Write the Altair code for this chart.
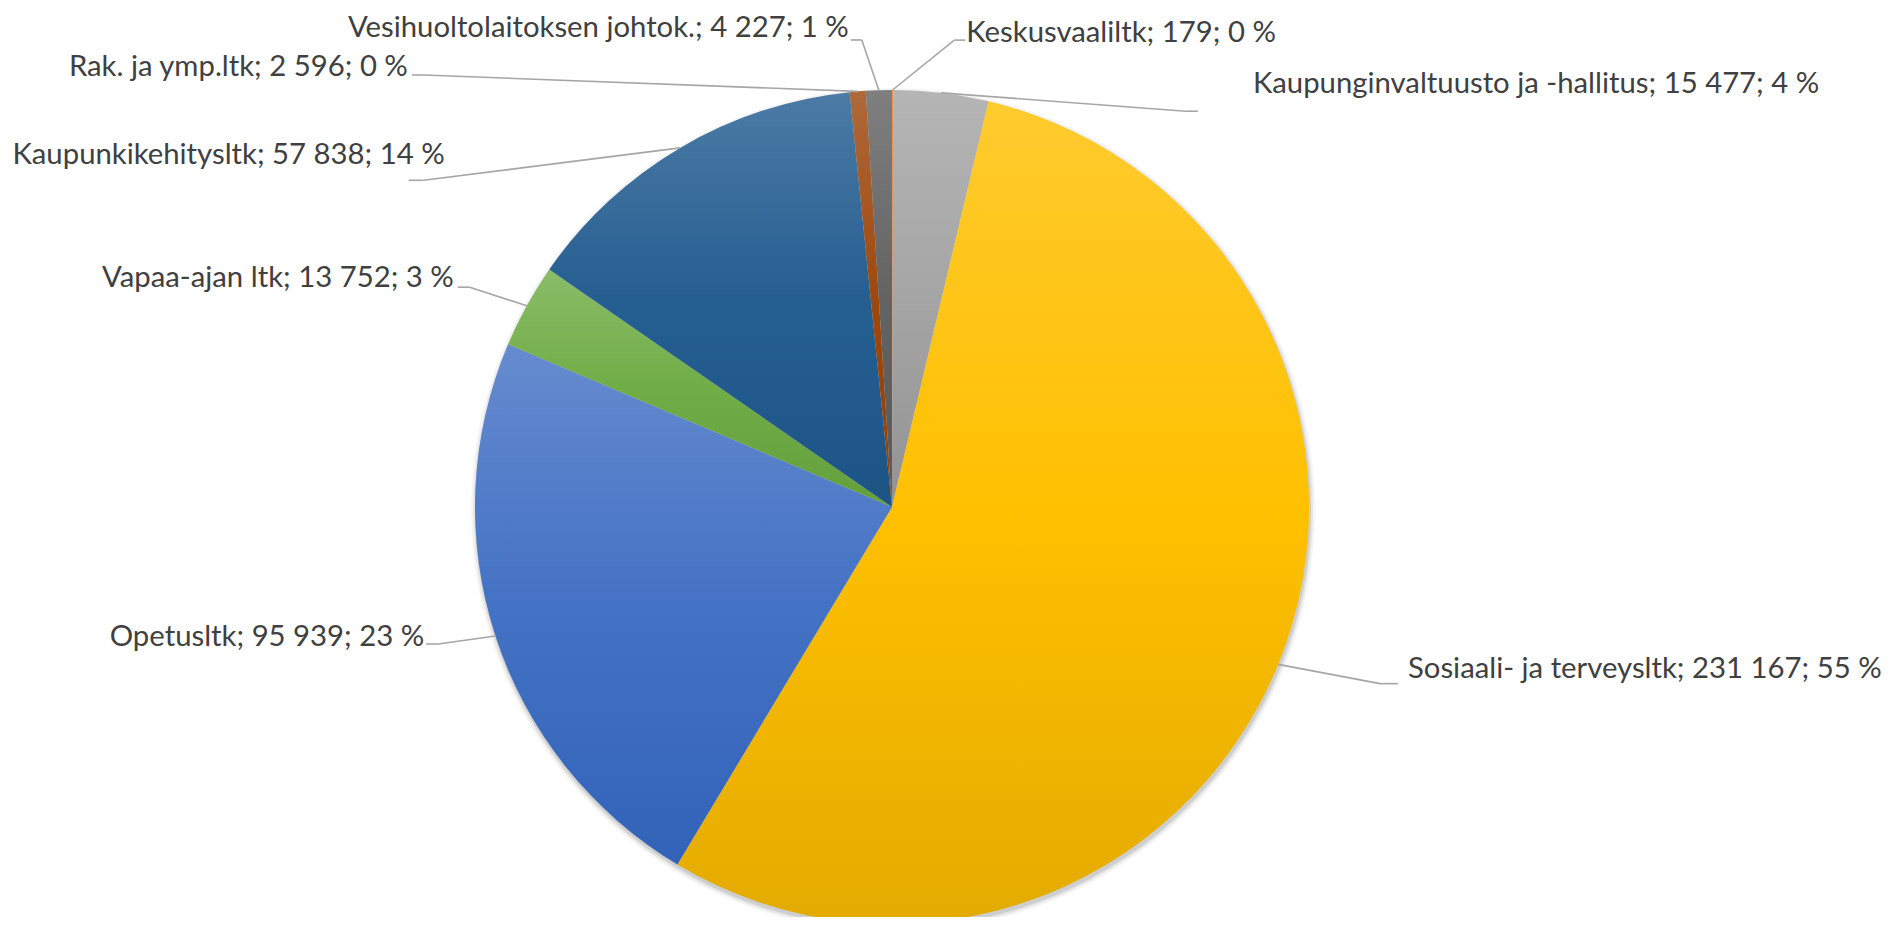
import altair as alt
import pandas as pd
import colorsys

# ---- data ----
categories = ["Keskusvaaliltk", "Kaupunginvaltuusto ja -hallitus", "Sosiaali- ja terveysltk",
              "Opetusltk", "Vapaa-ajan ltk", "Kaupunkikehitysltk", "Rak. ja ymp.ltk",
              "Vesihuoltolaitoksen johtok."]
values = [179, 15477, 231167, 95939, 13752, 57838, 2596, 4227]
percents = [0, 4, 55, 23, 3, 14, 0, 1]

# ---- styling ----
colors = ["#ED7D31", "#A5A5A5", "#FFC000", "#4472C4", "#70AD47", "#255E91", "#9E480E", "#636363"]

# label layout (elbow of leader line in polar coords around the pie centre, text offset)
label_angle = [7.6, 36.6, 109.9, 253.2, 297.5, 304.9, 312.7, 356.3]
label_radius = [471, 493, 519, 474, 476, 571, 637, 468]
label_side = [1, 1, 1, -1, -1, -1, -1, -1]
hline_len = [11, 12, 18, 12, 12, 15, 12, 11]
text_dx = [12, 67, 28, -14, -16, 21, -16, -13]
text_dy = [-7, -27, -15, -7, -9, -25, -8, -12]

W, H = 1882, 909
CX, CY, R = 884, 499, 417


def hex_rgb(h):
    h = h.lstrip("#")
    return [int(h[i:i + 2], 16) / 255 for i in (0, 2, 4)]


def rgb_hex(c):
    return "#" + "".join(f"{max(0, min(255, round(v * 255))):02X}" for v in c)


def tint(h, f=0.18):
    return rgb_hex([v + (1 - v) * f for v in hex_rgb(h)])


def shade(h, lf=0.89, sf=1.1):
    hh, ll, ss = colorsys.rgb_to_hls(*hex_rgb(h))
    return rgb_hex(colorsys.hls_to_rgb(hh, ll * lf, min(1, ss * sf)))


labels = [f"{c}; {v:,}".replace(",", " ") + f"; {p} %" for c, v, p in zip(categories, values, percents)]

df = pd.DataFrame({
    "order": list(range(len(categories))),
    "category": categories,
    "value": values,
    "label": labels,
    "la": label_angle,
    "lr": label_radius,
    "side": label_side,
    "hl": hline_len,
    "tdx": text_dx,
    "tdy": text_dy,
})

base = alt.Chart(df)

stacked = base.transform_joinaggregate(total="sum(value)").transform_window(
    cum="sum(value)", sort=[alt.SortField("order")], frame=[None, 0]
).transform_calculate(start="datum.cum - datum.value")

total = sum(values)
theta_scale = alt.Scale(domain=[0, total])

slices = []
for cat, col in zip(categories, colors):
    slices.append(
        stacked.transform_filter(alt.datum.category == cat).mark_arc(
            outerRadius=R,
            color=alt.LinearGradient(
                gradient="linear", x1=0, y1=0, x2=0, y2=1,
                stops=[
                    alt.GradientStop(offset=0, color=tint(col)),
                    alt.GradientStop(offset=0.5, color=col),
                    alt.GradientStop(offset=1, color=shade(col)),
                ],
            ),
        ).encode(
            theta=alt.Theta("start:Q", scale=theta_scale),
            theta2="cum:Q",
            x=alt.value(CX), y=alt.value(CY),
        )
    )

one = base.transform_filter("datum.order == 0")
shadows = [
    one.mark_arc(outerRadius=R + rr, theta=0, theta2=6.2832, color="#000000", opacity=op).encode(
        x=alt.value(CX + 1), y=alt.value(CY + 3))
    for rr, op in [(5, 0.04), (3, 0.06), (1, 0.10)]
]

geo = stacked.transform_calculate(
    mid="(datum.cum - datum.value / 2) / datum.total * 2 * PI",
).transform_calculate(
    sx=f"{CX} + {R} * sin(datum.mid)",
    sy=f"{CY} - {R} * cos(datum.mid)",
    ex=f"{CX} + datum.lr * sin(datum.la * PI / 180)",
    ey=f"{CY} - datum.lr * cos(datum.la * PI / 180)",
).transform_calculate(
    hx="datum.ex + datum.side * datum.hl",
    tx="datum.ex + datum.tdx",
    ty="datum.ey + datum.tdy",
)

line_color = "#A6A6A6"
leader = geo.mark_rule(color=line_color, strokeWidth=1.6).encode(
    x=alt.X("sx:Q", scale=None, axis=None), y=alt.Y("sy:Q", scale=None, axis=None),
    x2="ex:Q", y2="ey:Q",
)
hline = geo.mark_rule(color=line_color, strokeWidth=1.6).encode(
    x=alt.X("ex:Q", scale=None, axis=None), y=alt.Y("ey:Q", scale=None, axis=None),
    x2="hx:Q",
)

text_style = dict(font="Lato", fontSize=29.3, color="#404040", baseline="middle")
text_right = geo.transform_filter("datum.side > 0").mark_text(align="left", **text_style).encode(
    x=alt.X("tx:Q", scale=None, axis=None), y=alt.Y("ty:Q", scale=None, axis=None), text="label:N")
text_left = geo.transform_filter("datum.side < 0").mark_text(align="right", **text_style).encode(
    x=alt.X("tx:Q", scale=None, axis=None), y=alt.Y("ty:Q", scale=None, axis=None), text="label:N")

chart = alt.layer(*shadows, *slices, leader, hline, text_right, text_left).properties(
    width=W, height=H, autosize="none", padding=0, background="white"
).configure_view(stroke=None)

chart.save("out.html", embed_options={"renderer": "svg", "actions": False})
